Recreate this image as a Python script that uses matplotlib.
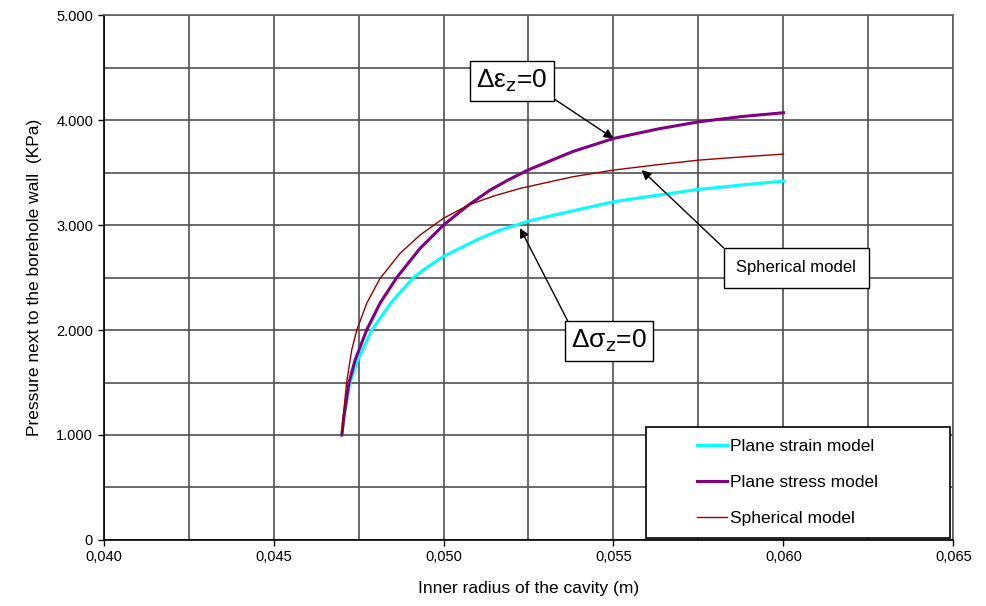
import matplotlib.pyplot as plt
from matplotlib.patches import Rectangle
from matplotlib.ticker import FuncFormatter, MultipleLocator

plt.rcParams['font.family'] = ['Liberation Sans', 'DejaVu Sans']

# inner radius [m] and wall pressure [KPa] for the three models
r_strain = [0.04701, 0.04707, 0.04725, 0.04748, 0.04789, 0.04848, 0.04877, 0.04911, 0.04946,
            0.05000, 0.05107, 0.05166, 0.05254, 0.05400, 0.05500, 0.05630, 0.05751, 0.05880, 0.06000]
p_strain = [1000, 1175, 1500, 1714, 2000, 2270, 2375, 2498, 2585,
            2702, 2873, 2952, 3041, 3150, 3222, 3285, 3340, 3383, 3419]

r_stress = [0.04701, 0.04707, 0.04722, 0.04740, 0.04774, 0.04813, 0.04862, 0.04931, 0.05000,
            0.05073, 0.05137, 0.05190, 0.05248, 0.05380, 0.05500, 0.05630, 0.05751, 0.05880, 0.06000]
p_stress = [1000, 1175, 1500, 1714, 2000, 2254, 2498, 2778, 3000,
            3190, 3333, 3429, 3524, 3700, 3825, 3915, 3984, 4035, 4070]

r_sphere = [0.04701, 0.04705, 0.04715, 0.04730, 0.04745, 0.04774, 0.04813, 0.04872, 0.04931, 0.05000,
            0.05073, 0.05147, 0.05225, 0.05380, 0.05500, 0.05630, 0.05751, 0.05880, 0.06000]
p_sphere = [1000, 1175, 1500, 1810, 2000, 2254, 2490, 2730, 2905, 3065,
            3190, 3276, 3349, 3460, 3524, 3575, 3619, 3650, 3676]

fig = plt.figure(figsize=(9.86, 6.06), dpi=100)
ax = fig.add_axes([0.105, 0.109, 0.862, 0.866])

ax.plot(r_strain, p_strain, color='#00FFFF', lw=2.2, label='Plane strain model', zorder=4,
        solid_joinstyle='round')
ax.plot(r_stress, p_stress, color='#800080', lw=2.2, label='Plane stress model', zorder=5,
        solid_joinstyle='round')
ax.plot(r_sphere, p_sphere, color='#990000', lw=1.0, label='Spherical model', zorder=6,
        solid_joinstyle='round')

ax.set_xlim(0.040, 0.065)
ax.set_ylim(0, 5000)

# labelled ticks every 0.005 / 1000, grid every 0.0025 / 500
ax.xaxis.set_major_locator(MultipleLocator(0.005))
ax.xaxis.set_minor_locator(MultipleLocator(0.0025))
ax.yaxis.set_major_locator(MultipleLocator(1000))
ax.yaxis.set_minor_locator(MultipleLocator(500))
ax.xaxis.set_major_formatter(FuncFormatter(lambda v, p: '{:.3f}'.format(v).replace('.', ',')))
ax.yaxis.set_major_formatter(FuncFormatter(lambda v, p: '0' if v == 0 else '{:,.0f}'.format(v).replace(',', '.')))
ax.tick_params(which='major', direction='out', length=4, width=1, labelsize=10.5, color='black')
ax.tick_params(which='minor', length=0)
ax.grid(which='both', color='#505050', lw=1.2)
ax.set_axisbelow(True)

for side in ['top', 'right']:
    ax.spines[side].set_color('#606060')
    ax.spines[side].set_linewidth(1.2)
for side in ['left', 'bottom']:
    ax.spines[side].set_color('black')
    ax.spines[side].set_linewidth(1.2)

ax.set_xlabel('Inner radius of the cavity (m)', fontsize=12.5, labelpad=12)
ax.set_ylabel('Pressure next to the borehole wall  (KPa)', fontsize=12.5, labelpad=10)

# callouts pointing at the curves
box = dict(boxstyle='square,pad=0.25', fc='white', ec='black', lw=1)
arrow = dict(arrowstyle='-|>', color='black', lw=1, mutation_scale=14, shrinkA=0, shrinkB=0)

ax.annotate('Δε$_{\\mathrm{z}}$=0', xy=(0.0550, 3825), xytext=(0.05201, 4371),
            ha='center', va='center', fontsize=19, bbox=box,
            arrowprops=dict(arrow, relpos=(1, 0)), zorder=8)
ax.annotate('Δσ$_{\\mathrm{z}}$=0', xy=(0.05225, 2971), xytext=(0.05487, 1895),
            ha='center', va='center', fontsize=19, bbox=box,
            arrowprops=dict(arrow, relpos=(0, 1)), zorder=8)
ax.annotate('Spherical model', xy=(0.05583, 3524), xytext=(0.06038, 2595),
            ha='center', va='center', fontsize=12,
            bbox=dict(boxstyle='square,pad=0.75', fc='white', ec='black', lw=1),
            arrowprops=dict(arrow, relpos=(0, 1)), zorder=8)

# legend sits in a fixed white frame in the lower right corner
frame = Rectangle((0.638, 0.004), 0.3575, 0.212, transform=ax.transAxes,
                  fc='white', ec='black', lw=1.2, zorder=9)
ax.add_patch(frame)
leg = ax.legend(loc='center left', bbox_to_anchor=(0.68, 0.11), frameon=False,
                fontsize=12.5, handlelength=1.7, handletextpad=0.2, labelspacing=1.2)
leg.set_zorder(10)

plt.savefig('out.png', dpi=100)
